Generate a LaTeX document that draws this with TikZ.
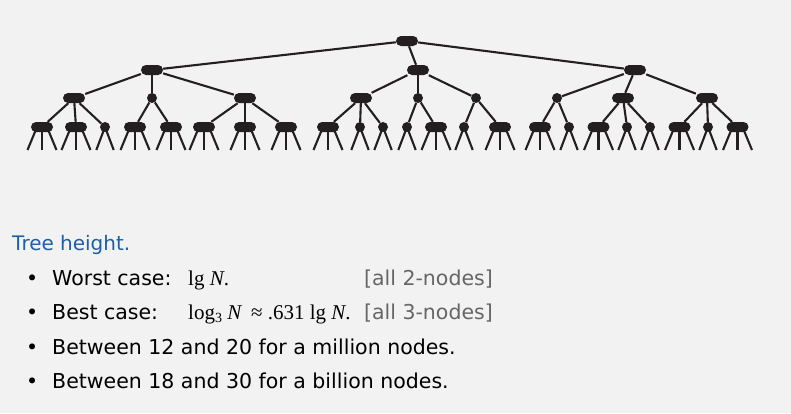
\documentclass[tikz,border=0pt]{standalone}
\usepackage{fontspec}
\setmainfont{DejaVu Sans}
\newfontfamily\mathserif{Liberation Serif}
\usepackage{xcolor}
\usepackage{tikz}
\usetikzlibrary{shapes,positioning,calc}
\definecolor{treeblack}{RGB}{35, 31, 32}
\definecolor{titleblue}{RGB}{30, 95, 165}
\definecolor{notegray}{RGB}{102, 102, 102}
\definecolor{bggray}{RGB}{242, 242, 242}

\begin{document}
\begin{tikzpicture}[
    x=1pt, y=-1pt,
    threenode/.style={fill=treeblack, rounded corners=5pt, minimum width=22pt, minimum height=10pt, inner sep=0pt},
    twonode/.style={circle, fill=treeblack, minimum size=10pt, inner sep=0pt},
    link/.style={draw=treeblack, line width=2.1pt},
    txt/.style={anchor=base west, inner sep=0pt, font=\fontsize{20.5}{24}\selectfont},
    mathtxt/.style={txt, font=\mathserif\fontsize{21}{24}\selectfont},
    note/.style={txt, anchor=base east, text=notegray}
]

% Background
\fill[bggray] (0,0) rectangle (791,413);
\useasboundingbox (0,0) rectangle (791,413);

% Root
\node[threenode] (r) at (407,41) {};

% Level 1
\node[threenode] (a) at (152,70) {};
\node[threenode] (b) at (418,70) {};
\node[threenode] (c) at (635,70) {};

% Level 2
\node[threenode] (aa) at (74,98) {};
\node[twonode]   (ab) at (152,98) {};
\node[threenode] (ac) at (245,98) {};
\node[threenode] (ba) at (361,98) {};
\node[twonode]   (bb) at (418,98) {};
\node[twonode]   (bc) at (476,98) {};
\node[twonode]   (ca) at (557,98) {};
\node[threenode] (cb) at (623,98) {};
\node[threenode] (cc) at (707,98) {};

% Level 3
\node[threenode] (aaa) at (42,127) {};
\node[threenode] (aab) at (76,127) {};
\node[twonode]   (aac) at (105,127) {};
\node[threenode] (aba) at (135,127) {};
\node[threenode] (abb) at (171,127) {};
\node[threenode] (aca) at (204,127) {};
\node[threenode] (acb) at (245,127) {};
\node[threenode] (acc) at (286,127) {};
\node[threenode] (baa) at (328,127) {};
\node[twonode]   (bab) at (360,127) {};
\node[twonode]   (bac) at (383,127) {};
\node[twonode]   (bba) at (407,127) {};
\node[threenode] (bbb) at (436,127) {};
\node[twonode]   (bca) at (464,127) {};
\node[threenode] (bcb) at (500,127) {};
\node[threenode] (caa) at (540,127) {};
\node[twonode]   (cab) at (569,127) {};
\node[threenode] (cba) at (598.5,127) {};
\node[twonode]   (cbb) at (627,127) {};
\node[twonode]   (cbc) at (650,127) {};
\node[threenode] (cca) at (679.5,127) {};
\node[twonode]   (ccb) at (708,127) {};
\node[threenode] (ccc) at (737.5,127) {};

% Links
\draw[link] (r) -- (a);
\draw[link] (r) -- (b);
\draw[link] (r) -- (c);
\draw[link] (a) -- (aa);
\draw[link] (a) -- (ab);
\draw[link] (a) -- (ac);
\draw[link] (b) -- (ba);
\draw[link] (b) -- (bb);
\draw[link] (b) -- (bc);
\draw[link] (c) -- (ca);
\draw[link] (c) -- (cb);
\draw[link] (c) -- (cc);
\draw[link] (aa) -- (aaa);
\draw[link] (aa) -- (aab);
\draw[link] (aa) -- (aac);
\draw[link] (ab) -- (aba);
\draw[link] (ab) -- (abb);
\draw[link] (ac) -- (aca);
\draw[link] (ac) -- (acb);
\draw[link] (ac) -- (acc);
\draw[link] (ba) -- (baa);
\draw[link] (ba) -- (bab);
\draw[link] (ba) -- (bac);
\draw[link] (bb) -- (bba);
\draw[link] (bb) -- (bbb);
\draw[link] (bc) -- (bca);
\draw[link] (bc) -- (bcb);
\draw[link] (ca) -- (caa);
\draw[link] (ca) -- (cab);
\draw[link] (cb) -- (cba);
\draw[link] (cb) -- (cbb);
\draw[link] (cb) -- (cbc);
\draw[link] (cc) -- (cca);
\draw[link] (cc) -- (ccb);
\draw[link] (cc) -- (ccc);

% Leaf stubs
\foreach \n in {aaa,aab,aba,abb,aca,acb,acc,baa,bbb,bcb,caa,cba,cca,ccc} {
    \draw[link] ($(\n)+(-5,0)$) -- ++(-9.5,23);
    \draw[link] (\n.center) -- ++(0,23);
    \draw[link] ($(\n)+(5,0)$) -- ++(9.5,23);
}
\foreach \n in {aac,bab,bac,bba,bca,cab,cbb,cbc,ccb} {
    \draw[link] (\n.center) -- ++(-8.7,23);
    \draw[link] (\n.center) -- ++(8.7,23);
}

% Text
\node[txt, text=titleblue, font=\fontsize{20}{24}\selectfont] (title) at (12,250) {Tree height.};

\node[txt] (dot1) at (26,285.5) {•};
\node[txt] (worst) at (52,285.5) {Worst case:};
\node[mathtxt] (worstval) at (188,285.5) {lg \textit{N}.};
\node[note] (worstnote) at (493,285.5) {[all 2-nodes]};

\node[txt] (dot2) at (26,319) {•};
\node[txt] (best) at (52,319) {Best case:};
\node[mathtxt] (bestval) at (188,319) {log\raisebox{-0.35ex}{\fontsize{14}{14}\selectfont 3} \textit{N}\, ≈ .631 lg \textit{N}.};
\node[note] (bestnote) at (493,319) {[all 3-nodes]};

\node[txt] (dot3) at (26,354) {•};
\node[txt] (million) at (52,354) {Between 12 and 20 for a million nodes.};

\node[txt] (dot4) at (26,388.5) {•};
\node[txt] (billion) at (52,388.5) {Between 18 and 30 for a billion nodes.};

\end{tikzpicture}
\end{document}
